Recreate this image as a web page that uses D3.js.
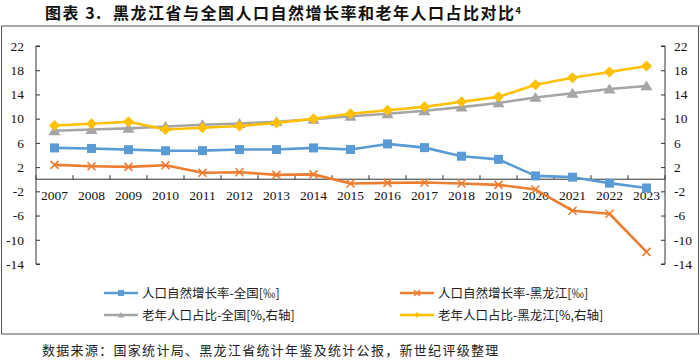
<!DOCTYPE html>
<html><head><meta charset="utf-8">
<script src="https://cdn.jsdelivr.net/npm/d3@7"></script>
<style>
body{margin:0;background:#fff;}
svg{display:block;}
</style></head>
<body>
<svg id="c" width="700" height="360"></svg>
<script>
const years = ["2007","2008","2009","2010","2011","2012","2013","2014","2015","2016","2017","2018","2019","2020","2021","2022","2023"];
const natRate = [5.17,5.08,4.88,4.70,4.72,4.90,4.90,5.17,4.92,5.83,5.22,3.80,3.28,0.55,0.34,-0.65,-1.45];
const hljRate = [2.37,2.15,2.04,2.30,1.07,1.15,0.72,0.80,-0.70,-0.60,-0.55,-0.70,-0.93,-1.70,-5.20,-5.70,-12.00];
const natOld = [8.0,8.2,8.4,8.7,9.0,9.2,9.5,9.9,10.4,10.8,11.3,11.9,12.6,13.5,14.2,14.9,15.4];
const hljOld = [8.87,9.15,9.50,8.20,8.50,8.80,9.30,10.0,10.80,11.40,11.95,12.80,13.60,15.60,16.75,17.70,18.70];
const leftTicks = [22,18,14,10,6,2,-2,-6,-10,-14];
const rightTicks = [22,18,14,10,6,2,-2,-6,-10,-14];
const seriesNames = ["人口自然增长率-全国[‰]","人口自然增长率-黑龙江[‰]","老年人口占比-全国[%,右轴]","老年人口占比-黑龙江[%,右轴]"];
const titleText = "图表 3.  黑龙江省与全国人口自然增长率和老年人口占比对比";
const sourceText = "数据来源：国家统计局、黑龙江省统计年鉴及统计公报，新世纪评级整理";

const svg = d3.select("#c");
const colors = ["#5B9BD5","#ED7D31","#A5A5A5","#FFC000"];
const L = 36, R = 665, T = 46, B = 264;
const x = d3.scaleBand().domain(years).range([L, R]).padding(0);
const yL = d3.scaleLinear().domain([-14, 22]).range([B, T]);
const yR = d3.scaleLinear().domain([-14, 22]).range([B, T]);
const cx = d => x(d) + x.bandwidth()/2;

// title
const title = svg.append("text").attr("x", 45).attr("y", 19)
  .attr("font-family", "'Noto Sans CJK SC', sans-serif").attr("font-weight", "bold")
  .attr("font-size", 16).attr("letter-spacing", "1.5px").attr("fill", "#111")
  .attr("xml:space","preserve").style("white-space","pre");
title.append("tspan").text(titleText);
title.append("tspan").attr("dy", -5).attr("font-size", 9).attr("letter-spacing","0px").text("4");

// frame
svg.append("rect").attr("x", 1.5).attr("y", 26).attr("width", 697).attr("height", 308)
  .attr("fill", "none").attr("stroke", "#555").attr("stroke-width", 1);

const serif = "'Liberation Serif','Times New Roman',serif";
// left axis
const gL = svg.append("g").attr("transform", `translate(${L},0)`)
  .call(d3.axisRight(yL).tickValues(leftTicks).tickSize(4).tickFormat(d3.format("d")));
gL.selectAll("text").remove();
gL.select(".domain").attr("d", `M4,${T}H0V${B}H4`);
svg.append("g").selectAll("text").data(leftTicks).join("text")
  .attr("x", 24).attr("y", d => yL(d)).attr("dy", "0.35em").attr("text-anchor", "end")
  .attr("font-family", serif).attr("font-size", 13.5).attr("fill", "#111").text(d => d);

// right axis
const gR = svg.append("g").attr("transform", `translate(${R},0)`)
  .call(d3.axisLeft(yR).tickValues(rightTicks).tickSize(4));
gR.selectAll("text").remove();
gR.select(".domain").attr("d", `M-4,${T}H0V${B}H-4`);
svg.append("g").selectAll("text").data(rightTicks).join("text")
  .attr("x", 674).attr("y", d => yR(d)).attr("dy", "0.35em").attr("text-anchor", "start")
  .attr("font-family", serif).attr("font-size", 13.5).attr("fill", "#111").text(d => d);

// x axis at zero
const y0 = yL(0);
svg.append("line").attr("x1", L).attr("x2", R).attr("y1", y0).attr("y2", y0).attr("stroke", "#333");
svg.append("g").selectAll("line").data(years.concat(["end"])).join("line")
  .attr("x1", d => d === "end" ? R : x(d)).attr("x2", d => d === "end" ? R : x(d))
  .attr("y1", y0).attr("y2", y0 - 4).attr("stroke", "#333");
svg.append("g").selectAll("text").data(years).join("text")
  .attr("x", d => cx(d)).attr("y", y0 + 21).attr("text-anchor", "middle")
  .attr("font-family", serif).attr("font-size", 13.5).attr("fill", "#111").text(d => d);
svg.selectAll(".domain, .tick line").attr("stroke", "#333");

// series
const data = [
  {v: natRate, s: yL, m: "square"},
  {v: hljRate, s: yL, m: "x"},
  {v: natOld, s: yR, m: "tri"},
  {v: hljOld, s: yR, m: "diamond"}
];
function marker(g, type, color, size) {
  if (type === "square") {
    g.append("rect").attr("x", -size/2).attr("y", -size/2).attr("width", size).attr("height", size).attr("fill", color);
  } else if (type === "x") {
    const h = size/2;
    g.append("path").attr("d", `M${-h},${-h}L${h},${h}M${-h},${h}L${h},${-h}`).attr("stroke", color).attr("stroke-width", 1.6).attr("fill","none");
  } else if (type === "tri") {
    const h = size/2;
    g.append("path").attr("d", `M0,${-h}L${h*1.1},${h*0.8}L${-h*1.1},${h*0.8}Z`).attr("fill", color);
  } else {
    const h = size/2;
    g.append("path").attr("d", `M0,${-h}L${h},0L0,${h}L${-h},0Z`).attr("fill", color);
  }
}
const drawOrder = [0,1,2,3];
drawOrder.forEach(i => {
  const s = data[i];
  const line = d3.line().x((d, j) => cx(years[j])).y(d => s.s(d));
  svg.append("path").datum(s.v).attr("d", line).attr("fill", "none")
    .attr("stroke", colors[i]).attr("stroke-width", 2.6).attr("stroke-linejoin", "round");
  s.v.forEach((d, j) => {
    const g = svg.append("g").attr("transform", `translate(${cx(years[j])},${s.s(d)})`);
    marker(g, s.m, colors[i], s.m === "x" ? 8 : (s.m === "square" ? 9 : 11));
  });
});

// legend
const legPos = [[104, 293], [400, 293], [104, 315], [400, 315]];
seriesNames.forEach((n, i) => {
  const [lx, ly] = legPos[i];
  svg.append("line").attr("x1", lx).attr("x2", lx + 34).attr("y1", ly).attr("y2", ly)
    .attr("stroke", colors[i]).attr("stroke-width", 2.6);
  const g = svg.append("g").attr("transform", `translate(${lx + 17},${ly})`);
  marker(g, data[i].m, colors[i], 6);
  svg.append("text").attr("x", lx + 38).attr("y", ly).attr("dy", "0.36em")
    .attr("font-family", "'Noto Sans CJK SC', sans-serif").attr("font-size", 12.5)
    .attr("fill", "#222").text(n);
});

// source
svg.append("text").attr("x", 42).attr("y", 355)
  .attr("font-family", "'Noto Sans CJK SC', sans-serif").attr("font-size", 13)
  .attr("letter-spacing", "1.3px").attr("fill", "#222").text(sourceText);
</script>
</body></html>
